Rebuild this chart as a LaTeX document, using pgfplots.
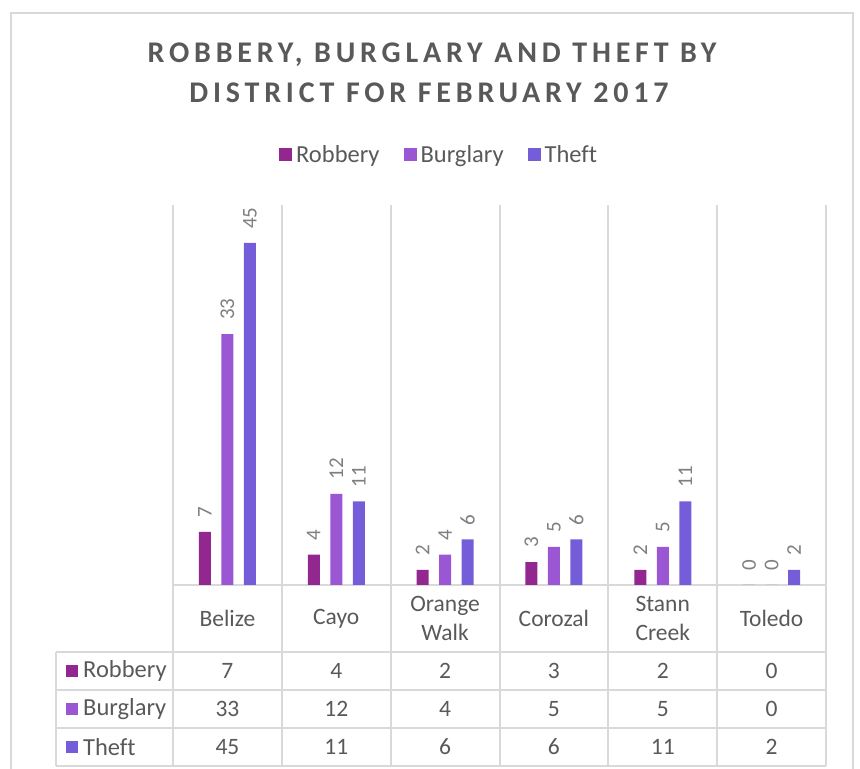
\documentclass[border=0pt]{standalone}
\usepackage{fontspec}
\setmainfont{Carlito}[Ligatures=NoCommon]
\newfontfamily\titlefont[LetterSpace=16]{Carlito}
\usepackage{pgfplots}
\pgfplotsset{compat=1.18}
\usepackage{pgfplotstable}

\definecolor{rob}{HTML}{92278F}
\definecolor{bur}{HTML}{9B57D3}
\definecolor{thf}{HTML}{755DD9}
\definecolor{txt}{HTML}{595959}
\definecolor{lbl}{HTML}{7F7F7F}
\definecolor{grd}{HTML}{D9D9D9}

% crimes per district, February 2017
\pgfplotstableread{
x rob bur thf
0 7 33 45
1 4 12 11
2 2 4 6
3 3 5 6
4 2 5 11
5 0 0 2
}\crimedata

\pgfplotsset{
  sq legend/.style={legend image code/.code={\fill[##1] (0bp,-6.5bp) rectangle (13bp,6.5bp);}},
  barlbl/.style={nodes near coords={\rotatebox{90}{\pgfmathprintnumber{\pgfplotspointmeta}}},
    every node near coord/.append style={anchor=south, inner ysep=14bp, inner xsep=0pt,
      xshift=#1, font=\fontsize{21bp}{25bp}\selectfont, text=lbl}},
  tablerow/.style={draw=none, mark=none, forget plot, nodes near coords, point meta=explicit,
    every node near coord/.append style={anchor=center, inner sep=0pt,
      font=\fontsize{23.5bp}{28bp}\selectfont, text=txt}},
}

\begin{document}
\begin{tikzpicture}[x=1bp,y=1bp]
\useasboundingbox (0,0) rectangle (860,769);
\coordinate (O) at (173,184);
% chart frame
\draw[grd, line width=1.5bp] (11,-10) -- (11,756) -- (853,756) -- (853,-10);
% category separators and data table grid
\foreach \gx in {173,281.83,390.67,499.5,608.33,717.17,826}
  \draw[grd, line width=2bp] (\gx,564) -- (\gx,3);
\draw[grd, line width=2bp] (173,184) -- (826,184);
\foreach \gy in {117,79,41,3}
  \draw[grd, line width=2bp] (56,\gy) -- (826,\gy);
\draw[grd, line width=2bp] (56,117) -- (56,3);

% title
\node[anchor=base, text=txt, font=\fontsize{30bp}{34bp}\selectfont\titlefont\bfseries] at (432,706) {ROBBERY, BURGLARY AND THEFT BY};
\node[anchor=base, text=txt, font=\fontsize{30bp}{34bp}\selectfont\titlefont\bfseries] at (429,666) {DISTRICT FOR FEBRUARY 2017};

% row headers of data table
\foreach \yy/\cc/\nn in {98/rob/Robbery, 60/bur/Burglary, 22/thf/Theft}{
  \fill[\cc] (66,\yy-6) rectangle (78,\yy+6);
  \node[anchor=west, inner sep=0pt, text=txt, font=\fontsize{24.5bp}{28bp}\selectfont] at (83,\yy) {\nn};
}

\begin{axis}[
  at={(O)}, anchor=south west,
  scale only axis, width=653bp, height=380bp,
  xmin=-0.5, xmax=5.5, ymin=0, ymax=50,
  axis line style={draw=none},
  ytick=\empty,
  xtick={0,...,5},
  xticklabels={Belize,Cayo,Orange\\Walk,Corozal,Stann\\Creek,Toledo},
  major tick length=0pt,
  xticklabel style={align=center, anchor=center, yshift=-33.5bp,
    font=\fontsize{23.5bp}{29bp}\selectfont, text=txt},
  clip=false,
  /pgf/number format/assume math mode=true,
  legend style={at={(0.1623,1.1316)}, anchor=west, draw=none, fill=none,
    legend columns=-1, inner sep=0pt,
    font=\fontsize{24.5bp}{28bp}\selectfont, text=txt,
    /tikz/every even column/.append style={column sep=22bp},
    /tikz/every odd column/.append style={column sep=2bp}},
  legend cell align=left,
]
\addplot[ybar, bar width=12bp, bar shift=-22.5bp, fill=rob, draw=none, sq legend, barlbl=-22.5bp]
  table[x=x, y=rob]{\crimedata};
\addplot[ybar, bar width=12bp, bar shift=0bp, fill=bur, draw=none, sq legend, barlbl=0bp]
  table[x=x, y=bur]{\crimedata};
\addplot[ybar, bar width=12bp, bar shift=22.5bp, fill=thf, draw=none, sq legend, barlbl=22.5bp]
  table[x=x, y=thf]{\crimedata};
\legend{Robbery,Burglary,Theft}

% data table values
\addplot[tablerow] table[x=x, y expr=-11.32, meta=rob]{\crimedata};
\addplot[tablerow] table[x=x, y expr=-16.32, meta=bur]{\crimedata};
\addplot[tablerow] table[x=x, y expr=-21.32, meta=thf]{\crimedata};
\end{axis}
\end{tikzpicture}
\end{document}
